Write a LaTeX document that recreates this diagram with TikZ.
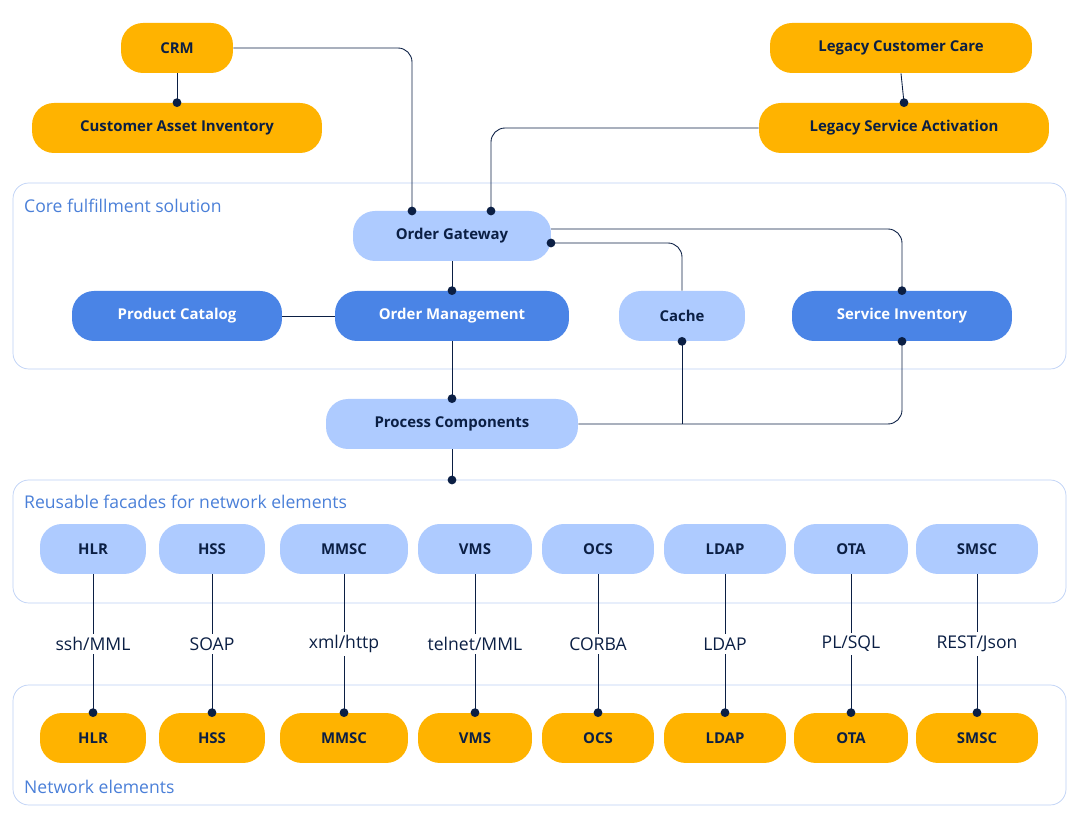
\documentclass[tikz,border=0pt]{standalone}
\usepackage{fontspec}
\setmainfont{Open Sans}
\usetikzlibrary{positioning}
\definecolor{orng}{HTML}{FFB300}
\definecolor{lblue}{HTML}{AECBFF}
\definecolor{dblue}{HTML}{4A84E6}
\definecolor{frame}{HTML}{BCD0F5}
\definecolor{ftext}{HTML}{4A7FD8}
\definecolor{wire}{HTML}{0B1F44}
\begin{document}
\begin{tikzpicture}[x=0.02cm,y=-0.02cm,
    pill/.style={rounded corners=12.5pt, minimum height=1cm, inner sep=0pt,
      font=\fontsize{8.5}{10}\selectfont\bfseries, text=wire},
    sys/.style={pill, fill=orng},
    lite/.style={pill, fill=lblue},
    dark/.style={pill, fill=dblue, text=white},
    area/.style={draw=frame, rounded corners=9pt},
    areatext/.style={anchor=west, text=ftext, font=\fontsize{10}{12}\selectfont},
    proto/.style={font=\fontsize{10}{12}\selectfont, text=wire, fill=white, inner sep=2pt},
    wire/.style={draw=wire, rounded corners=8pt, line width=0.5pt},
    dot/.style={circle, fill=wire, inner sep=0pt, minimum size=5pt}]
  \useasboundingbox (0,0) rectangle (1080,820);
  % frames
  \draw[area] (13,183) rectangle (1066,369);
  \draw[area] (13,480) rectangle (1066,603);
  \draw[area] (13,685) rectangle (1066,805);
  \node[areatext] (coretext) at (18,206) {Core fulfillment solution};
  \node[areatext] (facadetext) at (18,502) {Reusable facades for network elements};
  \node[areatext] (netext) at (18,787) {Network elements};
  % top systems
  \node[sys, minimum width=112\pgflinewidth*0+2.24cm] (crm) at (177,48) {CRM};
  \node[sys, minimum width=5.8cm] (cai) at (177,128) {Customer Asset Inventory};
  \node[sys, minimum width=5.24cm] (lcc) at (901,48) {Legacy Customer Care};
  \node[sys, minimum width=5.8cm] (lsa) at (904,128) {Legacy Service Activation};
  % core
  \node[lite, minimum width=3.96cm] (og) at (452,236) {Order Gateway};
  \node[dark, minimum width=4.2cm] (pcat) at (177,316) {Product Catalog};
  \node[dark, minimum width=4.68cm] (om) at (452,316) {Order Management};
  \node[lite, minimum width=2.52cm] (cache) at (682,316) {Cache};
  \node[dark, minimum width=4.4cm] (si) at (902,316) {Service Inventory};
  \node[lite, minimum width=5.04cm] (proc) at (452,424) {Process Components};
  % connectors
  \draw[wire] (crm.east) -| (412,211) node[dot] {};
  \draw[wire] (crm.south) -- (cai.north) node[dot] {};
  \draw[wire] (lcc.south) -- (lsa.north) node[dot] {};
  \draw[wire] (lsa.west) -| (491,211) node[dot] {};
  \draw[wire] (551,229) -| (si.north) node[dot] {};
  \draw[wire] (cache.north) |- (551,243) node[dot] {};
  \draw[wire] (og.south) -- (om.north) node[dot] {};
  \draw[wire] (pcat.east) -- (om.west);
  \draw[wire] (om.south) -- (proc.north) node[dot] {};
  \draw[wire] (proc.east) -| (si.south) node[dot] {};
  \draw[wire] (682,424) -- (cache.south) node[dot] {};
  \draw[wire] (proc.south) -- (452,480) node[dot] {};
  % facades and network elements
  \foreach \name/\x/\w/\proto in {HLR/93/2.12/ssh\slash MML, HSS/212/2.12/SOAP,
      MMSC/344/2.56/xml\slash http, VMS/475/2.28/telnet\slash MML, OCS/598/2.24/CORBA,
      LDAP/725/2.44/LDAP, OTA/851/2.28/PL\slash SQL, SMSC/977/2.44/REST\slash Json}{
    \node[lite, minimum width=\w cm] (f\name) at (\x,549) {\name};
    \node[sys, minimum width=\w cm] (n\name) at (\x,738) {\name};
    \draw[wire] (f\name.south) -- (n\name.north) node[dot] {};
    \node[proto] (p\name) at (\x,644) {\proto};
  }
\end{tikzpicture}
\end{document}
